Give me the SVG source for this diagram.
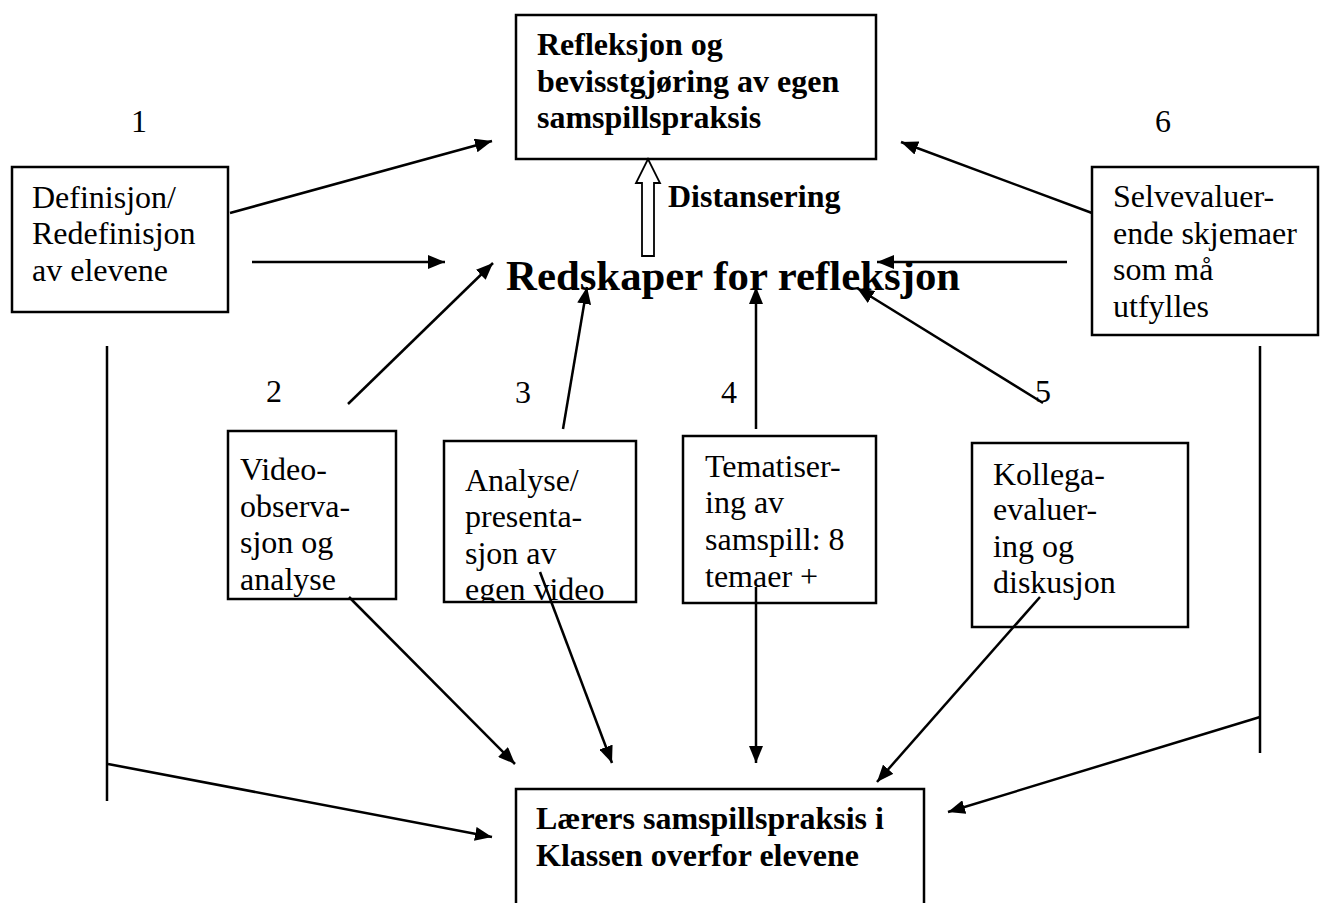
<svg xmlns="http://www.w3.org/2000/svg" width="1321" height="903" viewBox="0 0 1321 903">
<style>
.box{fill:#fff;stroke:#000;stroke-width:2.5}
.t{font-family:"Liberation Serif","Times New Roman",serif;font-size:32px;fill:#000}
.b{font-weight:bold}
.c{stroke:#000;stroke-width:2.5;fill:none;marker-end:url(#ah)}
.l{stroke:#000;stroke-width:2.5;fill:none}
</style>
<defs>
<marker id="ah" markerUnits="userSpaceOnUse" markerWidth="18" markerHeight="14" refX="17" refY="7" orient="auto">
<path d="M0,0 L17,7 L0,14 Z" fill="#000"/>
</marker>
<clipPath id="clipA"><rect x="444" y="441" width="192" height="160"/></clipPath>
</defs>
<rect width="1321" height="903" fill="#fff"/>

<g id="top">
<rect class="box" x="516" y="15" width="360" height="144"/>
<text class="t b" x="537" y="55">Refleksjon og</text>
<text class="t b" x="537" y="92">bevisstgjøring av egen</text>
<text class="t b" x="537" y="128">samspillspraksis</text>
</g>

<g id="distansering">
<polygon points="642,256 654,256 654,183 660,183 648,159 636,183 642,183" fill="#fff" stroke="#000" stroke-width="1.8"/>
<text class="t b" x="668" y="207">Distansering</text>
</g>

<g id="redskaper">
<text class="t b" x="506" y="290" style="font-size:42.8px">Redskaper for refleksjon</text>
</g>

<g id="n1">
<rect class="box" x="12" y="167" width="216" height="145"/>
<text class="t" x="32" y="208">Definisjon/</text>
<text class="t" x="32" y="244">Redefinisjon</text>
<text class="t" x="32" y="281">av elevene</text>
</g>

<g id="n6">
<rect class="box" x="1092" y="167" width="226" height="168"/>
<text class="t" x="1113" y="207">Selvevaluer-</text>
<text class="t" x="1113" y="244">ende skjemaer</text>
<text class="t" x="1113" y="280">som må</text>
<text class="t" x="1113" y="317">utfylles</text>
</g>

<g id="n2">
<rect class="box" x="228" y="431" width="168" height="168"/>
<text class="t" x="240" y="480">Video-</text>
<text class="t" x="240" y="517">observa-</text>
<text class="t" x="240" y="553">sjon og</text>
<text class="t" x="240" y="590">analyse</text>
</g>

<g id="n3">
<rect class="box" x="444" y="441" width="192" height="161"/>
<g clip-path="url(#clipA)">
<text class="t" x="465" y="491">Analyse/</text>
<text class="t" x="465" y="527">presenta-</text>
<text class="t" x="465" y="564">sjon av</text>
<text class="t" x="465" y="600">egen video</text>
</g>
</g>

<g id="n4">
<rect class="box" x="683" y="436" width="193" height="167"/>
<text class="t" x="705" y="477">Tematiser-</text>
<text class="t" x="705" y="513">ing av</text>
<text class="t" x="705" y="550">samspill: 8</text>
<text class="t" x="705" y="587">temaer +</text>
</g>

<g id="n5">
<rect class="box" x="972" y="443" width="216" height="184"/>
<text class="t" x="993" y="485">Kollega-</text>
<text class="t" x="993" y="520">evaluer-</text>
<text class="t" x="993" y="557">ing og</text>
<text class="t" x="993" y="593">diskusjon</text>
</g>

<g id="bottom">
<rect class="box" x="516" y="789" width="408" height="200"/>
<text class="t b" x="536" y="829">Lærers samspillspraksis i</text>
<text class="t b" x="536" y="866">Klassen overfor elevene</text>
</g>

<g id="numbers">
<text class="t" x="131" y="132">1</text>
<text class="t" x="266" y="402">2</text>
<text class="t" x="515" y="403">3</text>
<text class="t" x="721" y="403">4</text>
<text class="t" x="1035" y="402">5</text>
<text class="t" x="1155" y="132">6</text>
</g>

<g id="connectors">
<line class="c" x1="230" y1="213" x2="492" y2="141"/>
<line class="c" x1="252" y1="262" x2="445" y2="262"/>
<line class="c" x1="348" y1="404" x2="493" y2="263"/>
<line class="c" x1="563" y1="429" x2="587" y2="287"/>
<line class="c" x1="756" y1="429" x2="756" y2="287"/>
<line class="c" x1="1043" y1="403" x2="857" y2="288"/>
<line class="c" x1="1067" y1="262" x2="877" y2="262"/>
<line class="c" x1="1092" y1="213" x2="901" y2="142"/>
<line class="l" x1="107" y1="346" x2="107" y2="801"/>
<line class="l" x1="1260" y1="346" x2="1260" y2="753"/>
<line class="c" x1="108" y1="764" x2="492" y2="837"/>
<line class="c" x1="349" y1="597" x2="515" y2="764"/>
<line class="c" x1="540" y1="572" x2="612" y2="763"/>
<line class="c" x1="756" y1="587" x2="756" y2="763"/>
<line class="c" x1="1040" y1="597" x2="877" y2="782"/>
<line class="c" x1="1260" y1="717" x2="948" y2="812"/>
</g>
</svg>
